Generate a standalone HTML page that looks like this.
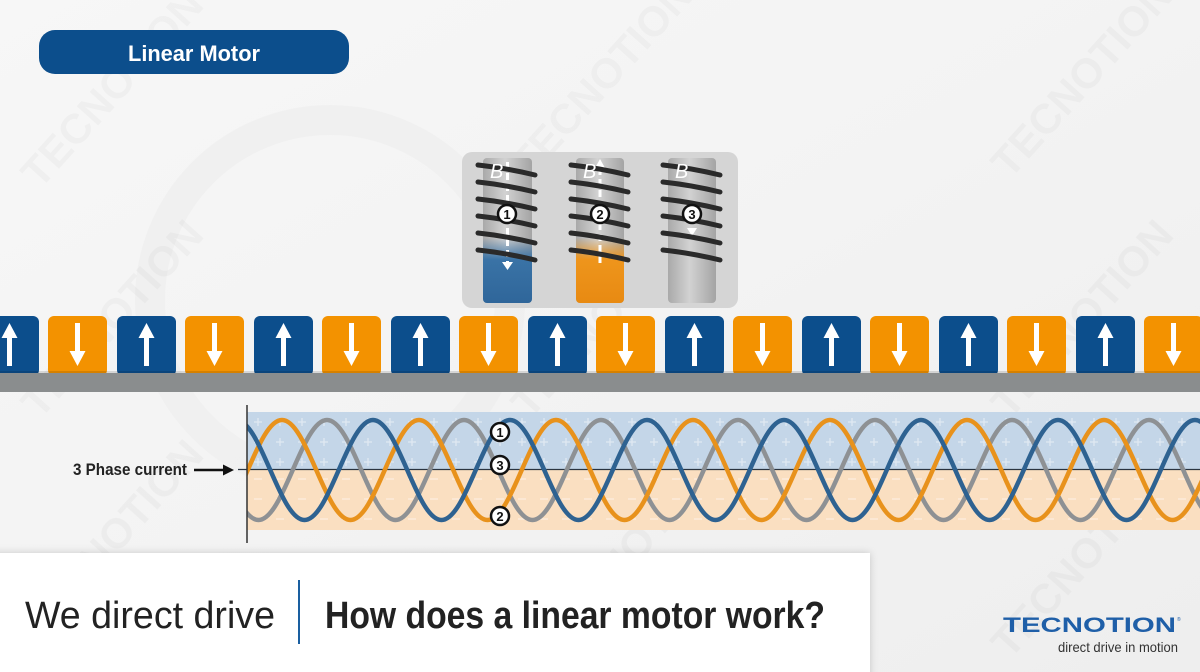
<!DOCTYPE html>
<html>
<head>
<meta charset="utf-8">
<style>
  html,body{margin:0;padding:0;}
  body{width:1200px;height:672px;overflow:hidden;background:#f3f3f3;}
  svg{display:block;}
  text{font-family:"Liberation Sans",sans-serif;}
</style>
</head>
<body>
<svg width="1200" height="672" viewBox="0 0 1200 672" xmlns="http://www.w3.org/2000/svg">
  <defs>
    <linearGradient id="bg" x1="0" y1="0" x2="1" y2="1">
      <stop offset="0" stop-color="#f7f7f7"/>
      <stop offset="0.5" stop-color="#f3f3f3"/>
      <stop offset="1" stop-color="#eeeeee"/>
    </linearGradient>
    <linearGradient id="cyl" x1="0" y1="0" x2="1" y2="0">
      <stop offset="0" stop-color="#a9a9a9"/>
      <stop offset="0.45" stop-color="#d2d2d2"/>
      <stop offset="1" stop-color="#a4a4a4"/>
    </linearGradient>
    <linearGradient id="blueFade" x1="0" y1="158" x2="0" y2="303" gradientUnits="userSpaceOnUse">
      <stop offset="0" stop-color="#3a73a6" stop-opacity="0"/>
      <stop offset="0.55" stop-color="#3a73a6" stop-opacity="0"/>
      <stop offset="0.7" stop-color="#3a73a6" stop-opacity="1"/>
      <stop offset="1" stop-color="#2f669a" stop-opacity="1"/>
    </linearGradient>
    <linearGradient id="orangeFade" x1="0" y1="158" x2="0" y2="303" gradientUnits="userSpaceOnUse">
      <stop offset="0" stop-color="#ee951c" stop-opacity="0"/>
      <stop offset="0.55" stop-color="#ee951c" stop-opacity="0"/>
      <stop offset="0.7" stop-color="#ee951c" stop-opacity="1"/>
      <stop offset="1" stop-color="#e88a12" stop-opacity="1"/>
    </linearGradient>
    <pattern id="plus" x="247" y="412" width="22" height="20" patternUnits="userSpaceOnUse">
      <path d="M11 6 v8 M7 10 h8" stroke="#ffffff" stroke-opacity="0.45" stroke-width="1.3"/>
    </pattern>
    <pattern id="minus" x="247" y="469" width="22" height="20" patternUnits="userSpaceOnUse">
      <path d="M7 10 h8" stroke="#ffffff" stroke-opacity="0.45" stroke-width="1.3"/>
    </pattern>
    <clipPath id="plotClip">
      <rect x="247" y="400" width="953" height="145"/>
    </clipPath>
    <filter id="shadow" x="-5%" y="-20%" width="110%" height="140%">
      <feDropShadow dx="0" dy="0" stdDeviation="4" flood-color="#000" flood-opacity="0.18"/>
    </filter>
  </defs>

  <!-- background -->
  <rect x="0" y="0" width="1200" height="672" fill="url(#bg)"/>
  <circle cx="330" cy="300" r="180" fill="none" stroke="#ececec" stroke-width="30" opacity="0.45"/>

  <!-- watermarks -->
  <g fill="#000" fill-opacity="0.028" font-weight="bold" font-size="42">
    <text transform="translate(40,190) rotate(-48)">TECNOTION</text>
    <text transform="translate(530,180) rotate(-48)">TECNOTION</text>
    <text transform="translate(1010,180) rotate(-48)">TECNOTION</text>
    <text transform="translate(40,420) rotate(-48)">TECNOTION</text>
    <text transform="translate(530,420) rotate(-48)">TECNOTION</text>
    <text transform="translate(1010,420) rotate(-48)">TECNOTION</text>
    <text transform="translate(40,640) rotate(-48)">TECNOTION</text>
    <text transform="translate(560,650) rotate(-48)">TECNOTION</text>
    <text transform="translate(1010,660) rotate(-48)">TECNOTION</text>
  </g>

  <!-- Linear Motor badge -->
  <rect x="39" y="30" width="310" height="44" rx="16" fill="#0c4e8c"/>
  <text x="128" y="61" font-size="22" font-weight="bold" fill="#ffffff" textLength="132" lengthAdjust="spacingAndGlyphs">Linear Motor</text>

  <!-- Coil panel -->
  <rect x="462" y="152" width="276" height="156" rx="10" fill="#d5d5d5"/>

  <!-- cores -->
  <rect x="483" y="158" width="49" height="145" rx="4" fill="url(#cyl)"/>
  <rect x="483" y="158" width="49" height="145" rx="4" fill="url(#blueFade)"/>
  <rect x="576" y="158" width="48" height="145" rx="4" fill="url(#cyl)"/>
  <rect x="576" y="158" width="48" height="145" rx="4" fill="url(#orangeFade)"/>
  <rect x="668" y="158" width="48" height="145" rx="4" fill="url(#cyl)"/>

  <!-- dashed B arrows -->
  <g stroke="#ffffff" stroke-width="3" stroke-dasharray="7 4" fill="none">
    <line x1="507.5" y1="162" x2="507.5" y2="262"/>
    <line x1="600" y1="168" x2="600" y2="264"/>
  </g>
  <polygon points="502,262 513,262 507.5,270" fill="#ffffff"/>
  <polygon points="595,168 605,168 600,159" fill="#ffffff"/>
  <polygon points="687,228 697,228 692,236" fill="#ffffff"/>

  <!-- windings -->
  <g fill="none" stroke-linecap="round">
    <g stroke="#2a2a2a" stroke-width="5">
      <path d="M478,165 Q506,168 535,175"/>
      <path d="M478,182 Q506,185 535,192"/>
      <path d="M478,199 Q506,202 535,209"/>
      <path d="M478,216 Q506,219 535,226"/>
      <path d="M478,233 Q506,236 535,243"/>
      <path d="M478,250 Q506,253 535,260"/>

      <path d="M571,165 Q599,168 628,175"/>
      <path d="M571,182 Q599,185 628,192"/>
      <path d="M571,199 Q599,202 628,209"/>
      <path d="M571,216 Q599,219 628,226"/>
      <path d="M571,233 Q599,236 628,243"/>
      <path d="M571,250 Q599,253 628,260"/>

      <path d="M663,165 Q691,168 720,175"/>
      <path d="M663,182 Q691,185 720,192"/>
      <path d="M663,199 Q691,202 720,209"/>
      <path d="M663,216 Q691,219 720,226"/>
      <path d="M663,233 Q691,236 720,243"/>
      <path d="M663,250 Q691,253 720,260"/>
    </g>
  </g>

  <!-- B labels -->
  <g font-family="Liberation Serif, serif" font-style="italic" font-size="20" fill="#ffffff">
    <text x="490" y="178">B</text>
    <text x="583" y="178">B</text>
    <text x="675" y="178">B</text>
  </g>

  <!-- numbered circles on coils -->
  <g>
    <circle cx="507" cy="214" r="9" fill="#ffffff" stroke="#111" stroke-width="2.5"/>
    <circle cx="600" cy="214" r="9" fill="#ffffff" stroke="#111" stroke-width="2.5"/>
    <circle cx="692" cy="214" r="9" fill="#ffffff" stroke="#111" stroke-width="2.5"/>
  </g>
  <g font-size="13" font-weight="bold" fill="#111" text-anchor="middle">
    <text x="507" y="219">1</text>
    <text x="600" y="219">2</text>
    <text x="692" y="219">3</text>
  </g>

  <!-- Magnet track -->
  <g>
    <rect x="-20" y="316" width="59" height="60" rx="6" fill="#0c4e8c"/>
    <rect x="117" y="316" width="59" height="60" rx="6" fill="#0c4e8c"/>
    <rect x="254" y="316" width="59" height="60" rx="6" fill="#0c4e8c"/>
    <rect x="391" y="316" width="59" height="60" rx="6" fill="#0c4e8c"/>
    <rect x="528" y="316" width="59" height="60" rx="6" fill="#0c4e8c"/>
    <rect x="665" y="316" width="59" height="60" rx="6" fill="#0c4e8c"/>
    <rect x="802" y="316" width="59" height="60" rx="6" fill="#0c4e8c"/>
    <rect x="939" y="316" width="59" height="60" rx="6" fill="#0c4e8c"/>
    <rect x="1076" y="316" width="59" height="60" rx="6" fill="#0c4e8c"/>

    <rect x="48" y="316" width="59" height="60" rx="6" fill="#f39200"/>
    <rect x="185" y="316" width="59" height="60" rx="6" fill="#f39200"/>
    <rect x="322" y="316" width="59" height="60" rx="6" fill="#f39200"/>
    <rect x="459" y="316" width="59" height="60" rx="6" fill="#f39200"/>
    <rect x="596" y="316" width="59" height="60" rx="6" fill="#f39200"/>
    <rect x="733" y="316" width="59" height="60" rx="6" fill="#f39200"/>
    <rect x="870" y="316" width="59" height="60" rx="6" fill="#f39200"/>
    <rect x="1007" y="316" width="59" height="60" rx="6" fill="#f39200"/>
    <rect x="1144" y="316" width="59" height="60" rx="6" fill="#f39200"/>
  </g>
  <rect x="0" y="373" width="1200" height="19" fill="#8a8d8e"/>
  <rect x="0" y="371" width="1200" height="2" fill="#000" fill-opacity="0.12"/>

  <!-- arrows up (blue magnets) / down (orange magnets) -->
  <g fill="#ffffff">
    <g id="upA">
      <rect x="7" y="336" width="5" height="30"/>
      <polygon points="1.5,338 17.5,338 9.5,323"/>
    </g>
    <use href="#upA" x="137"/>
    <use href="#upA" x="274"/>
    <use href="#upA" x="411"/>
    <use href="#upA" x="548"/>
    <use href="#upA" x="685"/>
    <use href="#upA" x="822"/>
    <use href="#upA" x="959"/>
    <use href="#upA" x="1096"/>

    <g id="dnA">
      <rect x="75" y="323" width="5" height="30"/>
      <polygon points="69.5,351 85.5,351 77.5,366"/>
    </g>
    <use href="#dnA" x="137"/>
    <use href="#dnA" x="274"/>
    <use href="#dnA" x="411"/>
    <use href="#dnA" x="548"/>
    <use href="#dnA" x="685"/>
    <use href="#dnA" x="822"/>
    <use href="#dnA" x="959"/>
    <use href="#dnA" x="1096"/>
  </g>

  <!-- 3 phase plot -->
  <rect x="247" y="412" width="953" height="57" fill="#c4d6e8"/>
  <rect x="247" y="412" width="953" height="57" fill="url(#plus)"/>
  <rect x="247" y="469" width="953" height="61" fill="#fadfc1"/>
  <rect x="247" y="469" width="953" height="61" fill="url(#minus)"/>
  <line x1="238" y1="469.5" x2="1200" y2="469.5" stroke="#2a3440" stroke-width="1.3"/>

  <g clip-path="url(#plotClip)" fill="none" stroke-width="4.5">
    <path stroke="#8e9194" d="M190,420 c24.95,0 43.55,100 68.5,100 s43.55,-100 68.5,-100 s43.55,100 68.5,100 s43.55,-100 68.5,-100 s43.55,100 68.5,100 s43.55,-100 68.5,-100 s43.55,100 68.5,100 s43.55,-100 68.5,-100 s43.55,100 68.5,100 s43.55,-100 68.5,-100 s43.55,100 68.5,100 s43.55,-100 68.5,-100 s43.55,100 68.5,100 s43.55,-100 68.5,-100 s43.55,100 68.5,100 s43.55,-100 68.5,-100 s43.55,100 68.5,100 s43.55,-100 68.5,-100"/>
    <path stroke="#e8921c" d="M145,420 c24.95,0 43.55,100 68.5,100 s43.55,-100 68.5,-100 s43.55,100 68.5,100 s43.55,-100 68.5,-100 s43.55,100 68.5,100 s43.55,-100 68.5,-100 s43.55,100 68.5,100 s43.55,-100 68.5,-100 s43.55,100 68.5,100 s43.55,-100 68.5,-100 s43.55,100 68.5,100 s43.55,-100 68.5,-100 s43.55,100 68.5,100 s43.55,-100 68.5,-100 s43.55,100 68.5,100 s43.55,-100 68.5,-100 s43.55,100 68.5,100 s43.55,-100 68.5,-100"/>
    <path stroke="#2e6291" d="M236,420 c24.95,0 43.55,100 68.5,100 s43.55,-100 68.5,-100 s43.55,100 68.5,100 s43.55,-100 68.5,-100 s43.55,100 68.5,100 s43.55,-100 68.5,-100 s43.55,100 68.5,100 s43.55,-100 68.5,-100 s43.55,100 68.5,100 s43.55,-100 68.5,-100 s43.55,100 68.5,100 s43.55,-100 68.5,-100 s43.55,100 68.5,100 s43.55,-100 68.5,-100 s43.55,100 68.5,100 s43.55,-100 68.5,-100 s43.55,100 68.5,100 s43.55,-100 68.5,-100"/>
  </g>

  <line x1="247" y1="405" x2="247" y2="543" stroke="#333" stroke-width="1.5"/>

  <!-- plot number labels -->
  <g>
    <circle cx="500" cy="432" r="9" fill="#ffffff" stroke="#111" stroke-width="2.5"/>
    <circle cx="500" cy="465" r="9" fill="#ffffff" stroke="#111" stroke-width="2.5"/>
    <circle cx="500" cy="516" r="9" fill="#ffffff" stroke="#111" stroke-width="2.5"/>
  </g>
  <g font-size="13" font-weight="bold" fill="#111" text-anchor="middle">
    <text x="500" y="437">1</text>
    <text x="500" y="470">3</text>
    <text x="500" y="521">2</text>
  </g>

  <!-- 3 Phase current label -->
  <text x="73" y="475" font-size="17" font-weight="bold" fill="#222" textLength="114" lengthAdjust="spacingAndGlyphs">3 Phase current</text>
  <line x1="194" y1="470" x2="226" y2="470" stroke="#111" stroke-width="2.5"/>
  <polygon points="223,464.5 234,470 223,475.5" fill="#111"/>

  <!-- bottom title box -->
  <rect x="-10" y="553" width="880" height="130" fill="#ffffff" filter="url(#shadow)"/>
  <text x="25" y="628" font-size="38" fill="#222" textLength="250" lengthAdjust="spacingAndGlyphs">We direct drive</text>
  <line x1="299" y1="580" x2="299" y2="644" stroke="#1a5fa0" stroke-width="2"/>
  <text x="325" y="628" font-size="38" font-weight="bold" fill="#222" textLength="500" lengthAdjust="spacingAndGlyphs">How does a linear motor work?</text>

  <!-- logo -->
  <text x="1003" y="632" font-size="21" font-weight="bold" fill="#1f5fa8" textLength="173" lengthAdjust="spacingAndGlyphs">TECNOTION</text>
  <text x="1177" y="621" font-size="5" fill="#1f5fa8">®</text>
  <text x="1058" y="652" font-size="14" fill="#333" textLength="120" lengthAdjust="spacingAndGlyphs">direct drive in motion</text>
</svg>
</body>
</html>
